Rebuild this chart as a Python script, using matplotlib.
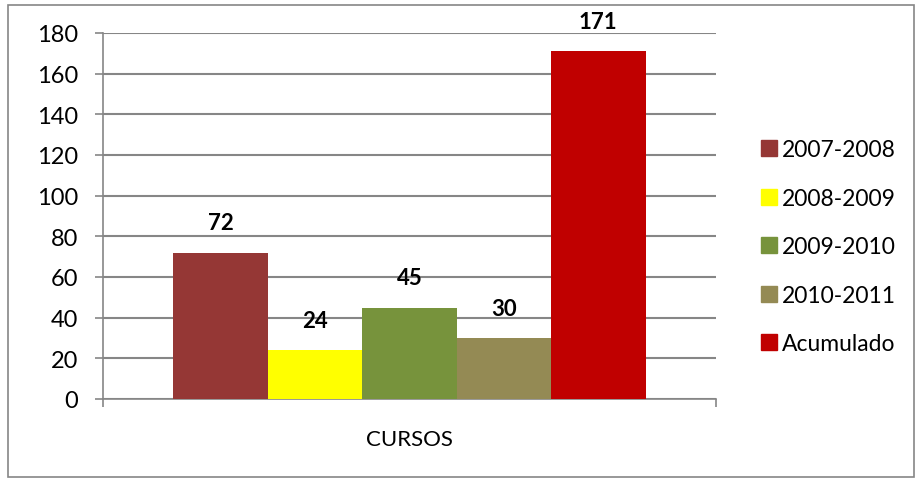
import numpy as np
import matplotlib
matplotlib.use('Agg')
import matplotlib.pyplot as plt
from matplotlib.lines import Line2D
from matplotlib.patches import Rectangle

plt.rcParams['font.family'] = ['Lato', 'DejaVu Sans']

# data
periods = ['2007-2008', '2008-2009', '2009-2010', '2010-2011', 'Acumulado']
values = [72, 24, 45, 30, 171]
colors = ['#953735', '#FFFF00', '#77933C', '#948A54', '#C00000']
category = 'CURSOS'
yticks = np.arange(0, 181, 20)

fig = plt.figure(figsize=(9.18, 4.85), dpi=100)
ax = fig.add_axes([103 / 918, 1 - 400 / 485, 613 / 918, 366 / 485])

width = 0.154
offsets = (np.arange(len(values)) - 2) * width
for off, v, c in zip(offsets, values, colors):
    ax.bar(0.5 + off, v, width=width, color=c, zorder=3)
    ax.text(0.5 + off, v + 9.5, str(v), ha='center', va='bottom',
            fontsize=16, fontweight='bold', zorder=4)

ax.set_xlim(0, 1)
ax.set_ylim(0, 180)
ax.set_yticks(yticks)
ax.set_xticks([0, 1])
ax.set_xticklabels(['', ''])
ax.tick_params(axis='y', labelsize=17, length=6, width=1.2, color='#868686', pad=12)
ax.tick_params(axis='x', length=6, width=1.2, color='#868686')
ax.yaxis.grid(True, color='#868686', lw=1.5, zorder=0)
for s in ['top', 'right']:
    ax.spines[s].set_visible(False)
for s in ['left', 'bottom']:
    ax.spines[s].set_color('#868686')
    ax.spines[s].set_linewidth(1.2)
ax.text(0.5, -0.11, category, transform=ax.transAxes, ha='center', va='center', fontsize=16)

handles = [Line2D([], [], marker='s', ls='', markersize=11, markerfacecolor=c,
                  markeredgecolor=c) for c in colors]
fig.legend(handles, periods, loc='upper left', bbox_to_anchor=(750 / 918, 1 - 131 / 485),
           frameon=False, fontsize=16.5, handletextpad=0.1, labelspacing=1.2,
           handlelength=0.9, borderaxespad=0)

fig.add_artist(Rectangle((8 / 918, 1 - 478 / 485), 906 / 918, 472 / 485,
                         transform=fig.transFigure, fill=False, edgecolor='#868686', lw=1.2))

fig.savefig('out.png', dpi=100)
